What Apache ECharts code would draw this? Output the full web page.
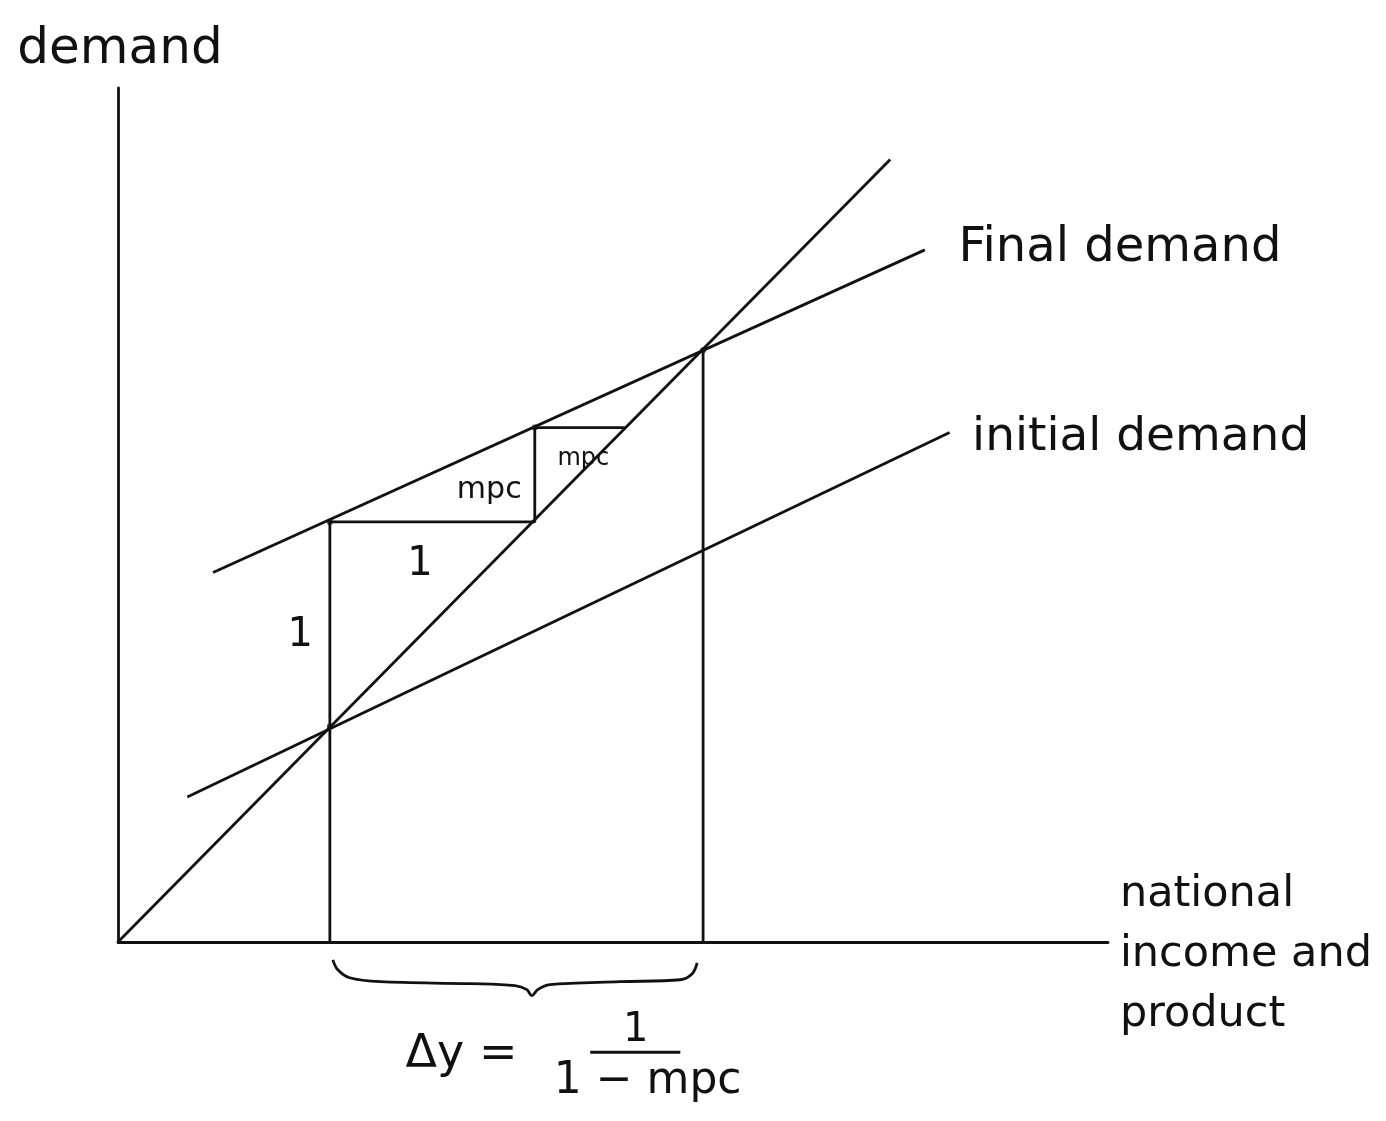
<!DOCTYPE html>
<html>
<head>
<meta charset="utf-8">
<script src="https://cdn.jsdelivr.net/npm/echarts@6/dist/echarts.min.js"></script>
<style>
html,body{margin:0;padding:0;background:#fff;}
#chart{width:1386px;height:1121px;}
</style>
</head>
<body>
<div id="chart"></div>
<script>
// ---- data (in chart units) ----
var line45 = [[0, 0], [7.80, 7.88]];
var initialDemand = [[0.70, 1.46], [8.40, 5.13]];
var finalDemand = [[0.96, 3.72], [8.15, 6.97]];
var steps = [[2.14, 0], [2.14, 4.23], [4.21, 4.23], [4.21, 5.18], [5.12, 5.18]];
var equilibriumDrop = [[5.91, 0], [5.91, 5.96]];
var cornerDots = [[2.14, 4.23], [4.21, 5.18], [5.91, 5.96], [2.14, 2.17]];
var brace = [[2.17, -0.18], [2.22, -0.28], [2.34, -0.36], [2.65, -0.40], [3.56, -0.42],
             [4.01, -0.44], [4.13, -0.48], [4.18, -0.54], [4.24, -0.48], [4.36, -0.43],
             [5.07, -0.40], [5.68, -0.38], [5.80, -0.32], [5.85, -0.21]];
var fractionBar = [[4.77, -1.11], [5.68, -1.11]];
var labelNames = ['demand', 'Final demand', 'initial demand', 'mpc', 'mpc', '1', '1',
                  'national\nincome and\nproduct', 'Δy =', '1', '1 − mpc'];
var labelCoords = [[0.02, 8.98], [10.12, 6.98], [10.33, 5.08], [3.75, 4.55], [4.70, 4.87],
                   [3.05, 3.80], [1.84, 3.09], [10.12, -0.13], [3.47, -1.14], [5.23, -0.89], [5.35, -1.41]];

var INK = '#111111';
var FONT = '"DejaVu Sans", sans-serif';
var labelStyles = [
  {fontSize: 50}, {fontSize: 48}, {fontSize: 47}, {fontSize: 30}, {fontSize: 24},
  {fontSize: 40}, {fontSize: 40}, {fontSize: 43, align: 'left', lineHeight: 60},
  {fontSize: 46}, {fontSize: 40}, {fontSize: 44}
];

function seg(data, extra) {
  var s = {
    type: 'line', data: data, showSymbol: false, symbol: 'none', clip: false,
    lineStyle: {color: INK, width: 2.8}, silent: true, z: 3
  };
  for (var k in extra) s[k] = extra[k];
  return s;
}

var labelData = labelNames.map(function (n, i) {
  var st = labelStyles[i];
  return {
    name: n, value: labelCoords[i],
    label: {
      show: true, position: 'inside', formatter: '{b}',
      fontSize: st.fontSize, align: st.align || 'center', verticalAlign: 'middle',
      lineHeight: st.lineHeight || Math.round(st.fontSize * 1.2),
      color: INK, fontFamily: FONT, textBorderWidth: 0, opacity: 1
    }
  };
});

var chart = echarts.init(document.getElementById('chart'), null, {renderer: 'canvas'});
chart.setOption({
  animation: false,
  backgroundColor: '#ffffff',
  grid: {left: 118, right: 278, top: 88, bottom: 179},
  xAxis: {
    type: 'value', min: 0, max: 10,
    axisLine: {show: true, onZero: false, lineStyle: {color: INK, width: 2.8}},
    axisTick: {show: false}, axisLabel: {show: false}, splitLine: {show: false}
  },
  yAxis: {
    type: 'value', min: 0, max: 8.6,
    axisLine: {show: true, onZero: false, lineStyle: {color: INK, width: 2.8}},
    axisTick: {show: false}, axisLabel: {show: false}, splitLine: {show: false}
  },
  series: [
    seg(line45),
    seg(initialDemand),
    seg(finalDemand),
    seg(steps),
    seg(equilibriumDrop),
    seg(brace, {smooth: 0.35}),
    seg(fractionBar),
    {
      type: 'scatter', data: cornerDots, symbolSize: 6, clip: false, silent: true,
      itemStyle: {color: INK}, z: 4
    },
    {
      type: 'scatter', data: labelData, symbolSize: 1, clip: false, silent: true,
      itemStyle: {color: '#ffffff', opacity: 1}, z: 5
    }
  ]
});
</script>
</body>
</html>
